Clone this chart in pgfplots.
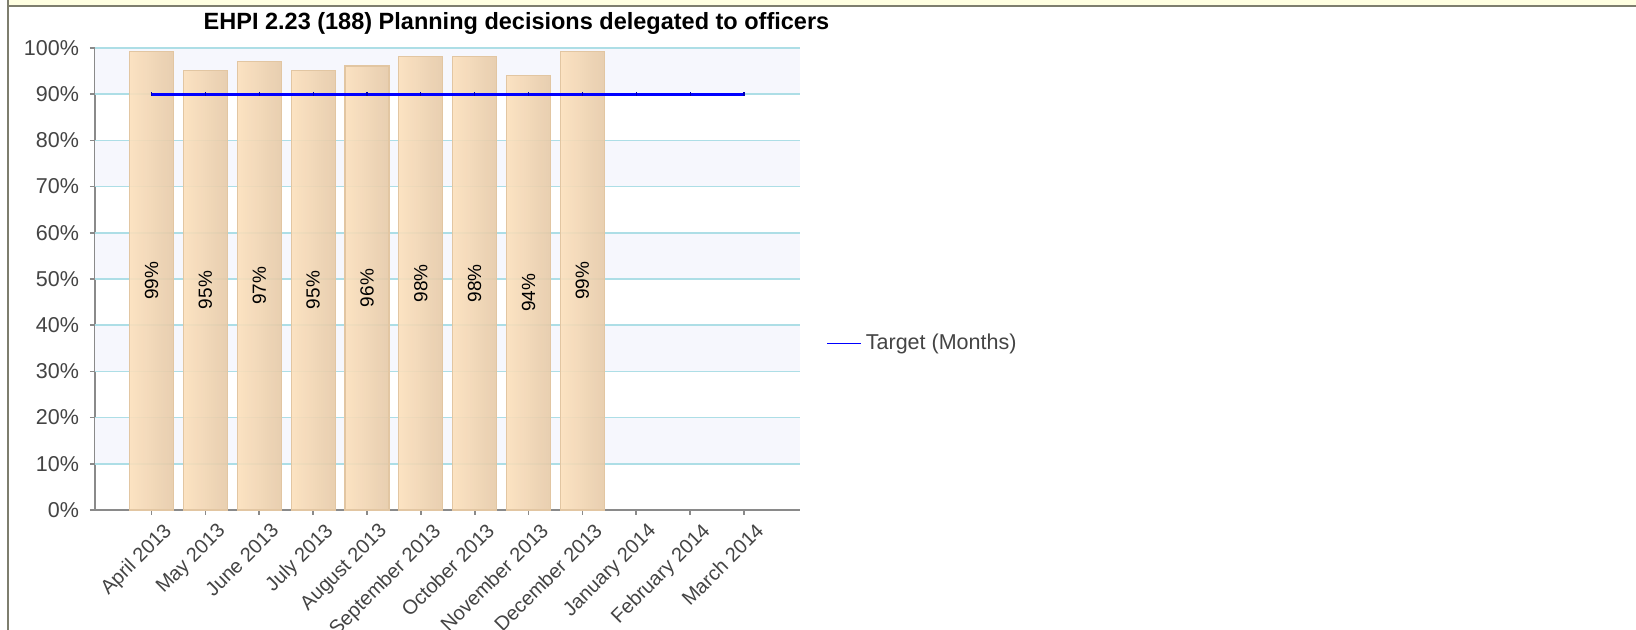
\documentclass[border=0pt]{standalone}
\usepackage{pgfplots}
\usepackage{pgfplotstable}
\pgfplotsset{compat=1.18}
\usepackage{fontspec}
\setmainfont{Liberation Sans}
\definecolor{bordergray}{HTML}{7E7E6E}
\definecolor{stripyellow}{HTML}{FFFFE1}
\definecolor{band}{HTML}{F6F7FD}
\definecolor{gridcyan}{HTML}{ADDEE6}
\definecolor{axisgray}{HTML}{8A8A8A}
\definecolor{barleft}{HTML}{FCE0BC}
\definecolor{barright}{HTML}{E6CAA8}
\definecolor{barborder}{HTML}{E2C6A2}
\definecolor{labgray}{HTML}{444444}

\pgfplotstableread{
x y lab
0 99.3 99
1 95.2 95
2 97.0 97
3 95.2 95
4 96.1 96
5 98.2 98
6 98.2 98
7 94.1 94
8 99.3 99
}\bars

\pgfplotstableread{
x y
0 90
1 90
2 90
3 90
4 90
5 90
6 90
7 90
8 90
9 90
10 90
11 90
}\target

\begin{document}
\begin{tikzpicture}
\useasboundingbox (0pt,0pt) rectangle (818pt,315pt);
\fill[white] (0pt,0pt) rectangle (818pt,315pt);
\fill[stripyellow] (4.5pt,315pt) rectangle (818pt,312.5pt);
\fill[bordergray] (3.5pt,312.5pt) rectangle (818pt,311.35pt);
\fill[bordergray] (3.5pt,0pt) rectangle (4.5pt,315pt);
\node[font=\bfseries\fontsize{11.75pt}{14pt}\selectfont, text=black] at (258.25pt,303.5pt) {EHPI 2.23 (188) Planning decisions delegated to officers};
\begin{axis}[
  at={(47.5pt,60pt)}, anchor=south west,
  width=352.5pt, height=231pt, scale only axis,
  xmin=-1.05, xmax=12.04, ymin=0, ymax=100,
  axis x line*=bottom, axis y line*=left,
  axis line style={axisgray, line width=1pt, -},
  xtick={0,...,11},
  xticklabels={April 2013, May 2013, June 2013, July 2013, August 2013, September 2013, October 2013, November 2013, December 2013, January 2014, February 2014, March 2014},
  ytick={0,10,...,100},
  yticklabel={\pgfmathprintnumber{\tick}\%},
  /pgf/number format/assume math mode=true,
  tick align=outside, major tick length=2.5pt,
  tick style={axisgray, line width=0.8pt},
  yticklabel style={font=\fontsize{10.75pt}{12pt}\selectfont, text=labgray, xshift=-2pt},
  xticklabel style={font=\fontsize{10pt}{12pt}\selectfont, text=labgray, rotate=45, anchor=north east, inner sep=1pt, xshift=2.5pt, yshift=-5pt},
  legend style={at={(1.037,0.361)}, anchor=west, draw=none, fill=none, inner sep=0pt,
    font=\fontsize{10.75pt}{12pt}\selectfont, text=labgray},
  legend cell align=left,
  clip=false,
  unbounded coords=discard,
]
\fill[band] (axis cs:-1.05,90) rectangle (axis cs:12.04,100);
\fill[band] (axis cs:-1.05,70) rectangle (axis cs:12.04,80);
\fill[band] (axis cs:-1.05,50) rectangle (axis cs:12.04,60);
\fill[band] (axis cs:-1.05,30) rectangle (axis cs:12.04,40);
\fill[band] (axis cs:-1.05,10) rectangle (axis cs:12.04,20);
\pgfplotsinvokeforeach{10,20,...,100}{
  \draw[gridcyan, line width=0.8pt] (axis cs:-1.05,#1) -- (axis cs:12.04,#1);
}
\pgfplotsinvokeforeach{0,...,8}{
\addplot[ybar, bar width=22pt, draw=barborder, line width=0.6pt, left color=barleft, right color=barright, fill opacity=0.9, forget plot,
  restrict x to domain=#1:#1] table[x=x, y=y] {\bars};
}
\addplot[draw=none, mark=none, forget plot,
  point meta=\thisrow{lab},
  nodes near coords={\pgfmathprintnumber{\pgfplotspointmeta}\%},
  every node near coord/.style={rotate=90, anchor=center, text=black, font=\fontsize{9.5pt}{11pt}\selectfont}]
  table[x=x, y expr=\thisrow{y}/2] {\bars};
\addplot[color=blue, line width=1.5pt, mark=|, mark size=1pt, mark options={color=blue!70!black, line width=0.6pt},
  legend image code/.code={\draw[blue, line width=0.7pt] (0pt,0pt) -- (17pt,0pt);}]
  table[x=x, y=y] {\target};
\addlegendentry{Target (Months)}
\end{axis}
\end{tikzpicture}
\end{document}
